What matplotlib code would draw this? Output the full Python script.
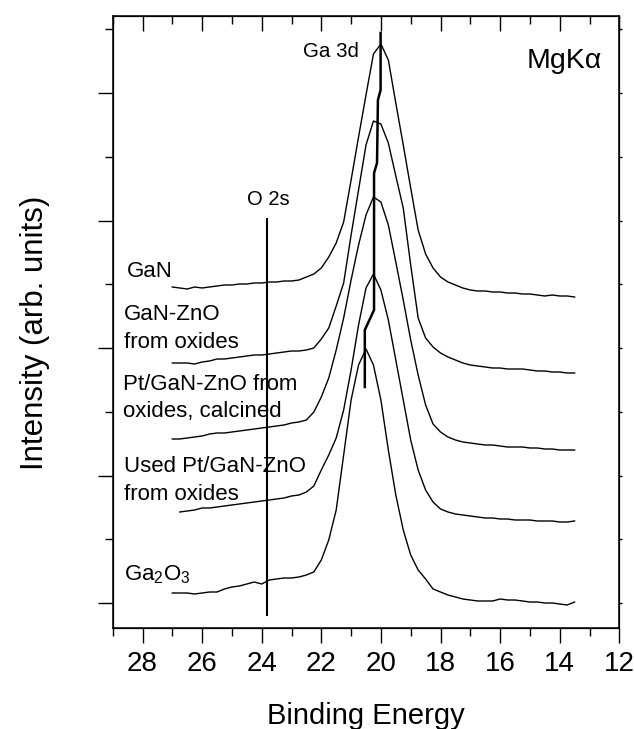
import numpy as np
import matplotlib
matplotlib.use('Agg')
import matplotlib.pyplot as plt
from matplotlib.ticker import MultipleLocator

plt.rcParams['font.family'] = ['Liberation Sans', 'DejaVu Sans']
plt.rcParams['mathtext.default'] = 'regular'

# binding energy grid (eV) shared by the spectra
be = [27.0, 26.75, 26.5, 26.25, 26.0, 25.75, 25.5, 25.25, 25.0, 24.75,
      24.5, 24.25, 24.0, 23.75, 23.5, 23.25, 23.0, 22.75, 22.5, 22.25,
      22.0, 21.75, 21.5, 21.25, 21.0, 20.75, 20.5, 20.25, 20.0, 19.75,
      19.5, 19.25, 19.0, 18.75, 18.5, 18.25, 18.0, 17.75, 17.5, 17.25,
      17.0, 16.75, 16.5, 16.25, 16.0, 15.75, 15.5, 15.25, 15.0, 14.75,
      14.5, 14.25, 14.0, 13.75, 13.5]

# intensities (arb. units, stacked)
gan = [316, 315, 314, 316, 315, 316, 317, 318, 318, 319,
       319, 320, 320, 321, 321, 322, 322, 323, 326, 329,
       335, 346, 360, 381, 423, 466, 508, 549, 559, 543,
       500, 458, 415, 373, 349, 335, 326, 321, 318, 315,
       313, 312, 312, 311, 311, 310, 310, 309, 309, 308,
       307, 308, 307, 307, 306]
gan_zno = [240, 240, 240, 239, 241, 242, 244, 244, 245, 246,
           247, 248, 248, 249, 250, 251, 252, 252, 253, 255,
           264, 275, 297, 320, 368, 413, 458, 482, 479, 460,
           427, 395, 338, 285, 265, 256, 250, 246, 243, 240,
           238, 237, 236, 235, 235, 234, 234, 234, 233, 232,
           232, 231, 231, 230, 230]
pt_calc = [164, 164, 165, 166, 167, 169, 170, 170, 171, 172,
           173, 174, 175, 176, 177, 178, 180, 181, 183, 191,
           206, 225, 253, 285, 323, 358, 388, 406, 401, 378,
           341, 303, 263, 228, 198, 179, 171, 166, 163, 161,
           160, 159, 158, 158, 157, 156, 156, 156, 155, 155,
           154, 154, 153, 153, 153]
used_pt = [91, 92, 93, 95, 95, 96, 97, 98, 99, 100,
           101, 102, 103, 104, 105, 107, 108, 111, 117, 133,
           148, 165, 193, 233, 278, 315, 329, 313, 283, 243,
           203, 163, 133, 113, 101, 94, 91, 89, 88, 87,
           86, 85, 85, 84, 84, 83, 83, 83, 82, 82,
           82, 81, 81, 82]
ga2o3 = [10, 10, 10, 9, 10, 11, 11, 14, 16, 17,
         19, 21, 19, 23, 24, 25, 25, 26, 28, 31,
         43, 63, 93, 148, 203, 238, 254, 238, 203, 153,
         108, 73, 48, 33, 24, 14, 11, 8, 6, 4,
         3, 2, 2, 2, 4, 3, 3, 2, 1, 1,
         0, 0, -1, -2, 1]

# Ga 3d peak-position guide and O 2s marker
ga3d_be = [20.01, 20.01, 20.10, 20.13, 20.23, 20.23, 20.54, 20.54]
ga3d_i = [570, 513, 503, 440, 430, 293, 273, 216]
o2s_be = 23.81
o2s_i = [-12, 384]

fig = plt.figure(figsize=(6.34, 7.29), dpi=100)
ax = fig.add_axes([112.7 / 634, 1 - 628 / 729, 506.6 / 634, 612 / 729])

lw = 1.0
ax.plot(be, gan, color='black', lw=lw)
ax.plot(be, gan_zno, color='black', lw=lw)
ax.plot(be, pt_calc, color='black', lw=lw)
ax.plot(be[1:], used_pt, color='black', lw=lw)
ax.plot(be, ga2o3, color='black', lw=lw)
ax.plot(ga3d_be, ga3d_i, color='black', lw=1.8)
ax.plot([o2s_be, o2s_be], o2s_i, color='black', lw=1.5)

ax.set_xlim(29, 12)
ax.set_ylim(-25, 587)

ax.xaxis.set_major_locator(MultipleLocator(2))
ax.xaxis.set_minor_locator(MultipleLocator(1))
ax.set_yticks([0, 127.5, 255, 382.5, 510])
ax.set_yticks([63.75, 191.25, 318.75, 446.25, 573.75], minor=True)
ax.set_yticklabels([])
ax.tick_params(axis='x', which='major', direction='out', length=10.8, width=1.0,
               labelsize=20, pad=6, top=False)
ax.tick_params(axis='x', which='minor', direction='out', length=5.8, width=1.0, top=False)
ax.tick_params(axis='y', which='major', direction='out', length=10.8, width=1.0, right=False)
ax.tick_params(axis='y', which='minor', direction='out', length=5.8, width=1.0, right=False)
for s in ax.spines.values():
    s.set_linewidth(1.1)

# top ticks point inward, right ticks are tiny
ax_top = ax.twiny()
ax_top.set_xlim(29, 12)
ax_top.xaxis.set_major_locator(MultipleLocator(2))
ax_top.xaxis.set_minor_locator(MultipleLocator(1))
ax_top.tick_params(axis='x', which='major', direction='in', length=10.8, width=1.0, labeltop=False)
ax_top.tick_params(axis='x', which='minor', direction='in', length=5.8, width=1.0)
ax_right = ax.twinx()
ax_right.set_ylim(-25, 587)
ax_right.set_yticks([0, 127.5, 255, 382.5, 510, 63.75, 191.25, 318.75, 446.25, 573.75])
ax_right.tick_params(axis='y', direction='out', length=2, width=1.0, labelright=False)

ax.set_xlabel('Binding Energy', fontsize=21, labelpad=18)
fig.text(35 / 634, 1 - 333 / 729, 'Intensity (arb. units)', rotation=90,
         ha='center', va='center', fontsize=22.5)

fs = 16
ax.text(28.52, 326, 'GaN', fontsize=fs, va='baseline')
ax.text(28.62, 283, 'GaN-ZnO', fontsize=fs, va='baseline')
ax.text(28.62, 255, 'from oxides', fontsize=fs, va='baseline')
ax.text(28.65, 213, 'Pt/GaN-ZnO from', fontsize=fs, va='baseline')
ax.text(28.65, 186, 'oxides, calcined', fontsize=fs, va='baseline')
ax.text(28.62, 131, 'Used Pt/GaN-ZnO', fontsize=fs, va='baseline')
ax.text(28.62, 103, 'from oxides', fontsize=fs, va='baseline')
ax.text(28.62, 23, 'Ga$_2$O$_3$', fontsize=fs, va='baseline')
ax.text(23.79, 398, 'O 2s', fontsize=14.5, ha='center', va='baseline')
ax.text(20.73, 546, 'Ga 3d', fontsize=14.8, ha='right', va='baseline')
ax.text(12.58, 535, 'MgKα', fontsize=20.5, ha='right', va='baseline')

fig.savefig('out.png', dpi=100)
